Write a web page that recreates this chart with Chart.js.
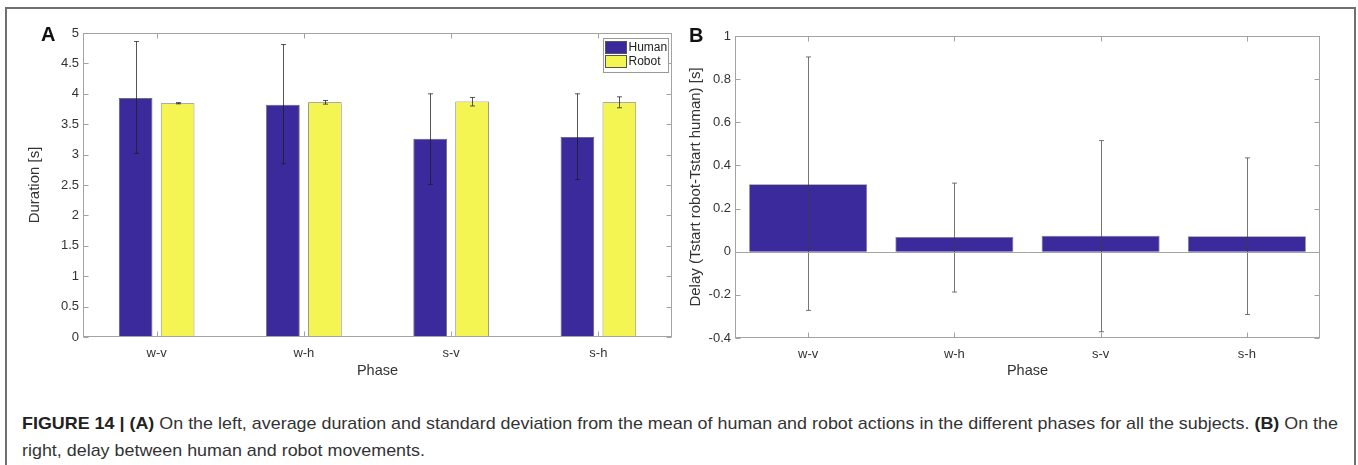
<!DOCTYPE html>
<html>
<head>
<meta charset="utf-8">
<script src="https://cdn.jsdelivr.net/npm/chart.js@4.4.1/dist/chart.umd.min.js"></script>
<style>
  body { margin: 0; background: #fff; width: 1358px; height: 465px; overflow: hidden; position: relative;
         font-family: "Liberation Sans", Arial, sans-serif; }
  #frame { position: absolute; left: 5px; top: 7px; width: 1347px; height: 520px; border: 2px solid #707070; }
  canvas { position: absolute; top: 0; }
  #durChart { left: 0; }
  #delayChart { left: 680px; }
  .tag { position: absolute; font-weight: bold; font-size: 20px; line-height: 20px; color: #111; }
  #caption { position: absolute; left: 22px; top: 410px; font-size: 17px; line-height: 27px; color: #333;
             font-family: "Liberation Sans", Arial, sans-serif;
             white-space: nowrap; transform-origin: 0 0; }
  #caption b { color: #222; }
</style>
</head>
<body>
<div id="frame"></div>
<canvas id="durChart" width="680" height="390"></canvas>
<canvas id="delayChart" width="678" height="390"></canvas>
<div class="tag" style="left:41px;top:24px">A</div>
<div class="tag" style="left:689px;top:25px">B</div>
<div id="caption"><span id="line1"><b>FIGURE 14 | (A)</b> On the left, average duration and standard deviation from the mean of human and robot actions in the different phases for all the subjects. <b>(B)</b> On the</span><br>right, delay between human and robot movements.</div>

<script>
// phases on the x axis
var phases = ['w-v', 'w-h', 's-v', 's-h'];

// duration (mean and mean +/- sd), seconds
var humanDur  = [3.93, 3.82, 3.26, 3.29];
var humanLow  = [3.02, 2.85, 2.51, 2.59];
var humanHigh = [4.86, 4.81, 4.00, 4.00];
var robotDur  = [3.845, 3.86, 3.875, 3.86];
var robotLow  = [3.835, 3.83, 3.80, 3.77];
var robotHigh = [3.855, 3.89, 3.94, 3.95];

// delay Tstart robot - Tstart human, seconds
var delay     = [0.313, 0.068, 0.074, 0.072];
var delayLow  = [-0.272, -0.187, -0.371, -0.291];
var delayHigh = [0.903, 0.318, 0.515, 0.435];

// y axis ranges
var durAxis   = { min: 0, max: 5, step: 0.5 };
var delayAxis = { min: -0.4, max: 1, step: 0.2 };

var FONT = "'Liberation Sans', Arial, sans-serif";
var humanColor = '#3b2a9c';
var robotColor = '#f4f552';

// whiskers drawn from the errLow / errHigh arrays of each dataset
var errorBars = {
  id: 'errorBars',
  afterDatasetsDraw: function(chart) {
    var ctx = chart.ctx, ys = chart.scales.y;
    chart.data.datasets.forEach(function(ds, i) {
      if (!ds.errLow) return;
      var meta = chart.getDatasetMeta(i);
      ctx.save();
      ctx.strokeStyle = ds.errColor;
      ctx.lineWidth = 1;
      meta.data.forEach(function(bar, j) {
        var x = Math.round(bar.x) + 0.5;
        var y1 = ys.getPixelForValue(ds.errLow[j]);
        var y2 = ys.getPixelForValue(ds.errHigh[j]);
        ctx.beginPath();
        ctx.moveTo(x, y1); ctx.lineTo(x, y2);
        ctx.moveTo(x - 2.5, y1); ctx.lineTo(x + 2.5, y1);
        ctx.moveTo(x - 2.5, y2); ctx.lineTo(x + 2.5, y2);
        ctx.stroke();
      });
      ctx.restore();
    });
  }
};

// matlab style box with inward ticks, optional zero line and legend
var axesBox = {
  id: 'axesBox',
  afterDraw: function(chart, args, opts) {
    var ctx = chart.ctx, a = chart.chartArea;
    var xs = chart.scales.x, ys = chart.scales.y;
    var L = Math.round(a.left) + 0.5, R = Math.round(a.right) - 0.5;
    var T = Math.round(a.top) + 0.5, B = Math.round(a.bottom) - 0.5;
    ctx.save();
    ctx.strokeStyle = '#a3a3a3';
    ctx.lineWidth = 1;
    if (opts.zeroLine) {
      var z = Math.round(ys.getPixelForValue(0)) + 0.5;
      ctx.beginPath(); ctx.moveTo(L, z); ctx.lineTo(R, z); ctx.stroke();
    }
    ctx.strokeRect(L, T, R - L, B - T);
    ctx.beginPath();
    ys.ticks.forEach(function(t, i) {
      var y = Math.round(ys.getPixelForTick(i)) + 0.5;
      ctx.moveTo(L, y); ctx.lineTo(L + 5, y);
      ctx.moveTo(R, y); ctx.lineTo(R - 5, y);
    });
    xs.ticks.forEach(function(t, i) {
      var x = Math.round(xs.getPixelForTick(i)) + 0.5;
      ctx.moveTo(x, B); ctx.lineTo(x, B - 5);
      ctx.moveTo(x, T); ctx.lineTo(x, T + 5);
    });
    ctx.stroke();

    if (opts.legend) {
      var w = 65, rowH = 14, h = 2 * rowH + 6;
      var lx = Math.round(a.right) - 4 - w + 0.5, ly = T + 5;
      ctx.fillStyle = '#fff';
      ctx.fillRect(lx, ly, w, h);
      ctx.strokeStyle = '#9a9a9a';
      ctx.strokeRect(lx, ly, w, h);
      ctx.font = '12px ' + FONT;
      ctx.textBaseline = 'middle';
      chart.data.datasets.forEach(function(ds, i) {
        var sy = ly + 3 + i * rowH;
        ctx.fillStyle = ds.backgroundColor;
        ctx.fillRect(lx + 2, sy, 21, rowH - 2);
        ctx.strokeStyle = '#555';
        ctx.strokeRect(lx + 2, sy, 21, rowH - 2);
        ctx.fillStyle = '#222';
        ctx.fillText(ds.label, lx + 25, sy + (rowH - 2) / 2 + 0.5);
      });
    }
    ctx.restore();
  }
};

function trimNum(v) { return String(Math.round(v * 10) / 10); }

function makeOptions(box, pad, area, yTitle, yTitlePad) {
  return {
    responsive: false,
    animation: false,
    devicePixelRatio: 1,
    layout: { padding: pad },
    plugins: { legend: { display: false }, tooltip: { enabled: false }, axesBox: box },
    scales: {
      x: {
        grid: { display: false, drawTicks: false },
        border: { display: false },
        ticks: { color: '#333', font: { family: FONT, size: 13 }, padding: 9 },
        title: { display: true, text: 'Phase', color: '#333', font: { family: FONT, size: 14.5 },
                 padding: { top: 0, bottom: 10.5 } },
        afterFit: function(s) { s.height = area.xHeight; }
      },
      y: {
        min: area.min, max: area.max,
        grid: { display: false, drawTicks: false },
        border: { display: false },
        ticks: { stepSize: area.step, color: '#333', font: { family: FONT, size: 13 }, padding: 4,
                 callback: trimNum },
        title: { display: true, text: yTitle, color: '#333', font: { family: FONT, size: 15 },
                 padding: { top: yTitlePad, bottom: 0 } },
        afterFit: function(s) { s.width = area.yWidth; }
      }
    }
  };
}

new Chart(document.getElementById('durChart'), {
  type: 'bar',
  data: {
    labels: phases,
    datasets: [
      { label: 'Human', data: humanDur, backgroundColor: humanColor, borderColor: 'rgba(40,40,40,0.8)',
        borderWidth: 0.8, categoryPercentage: 0.57, barPercentage: 0.8,
        errLow: humanLow, errHigh: humanHigh, errColor: 'rgba(30,30,30,0.75)' },
      { label: 'Robot', data: robotDur, backgroundColor: robotColor, borderColor: 'rgba(70,70,70,0.8)',
        borderWidth: 0.8, categoryPercentage: 0.57, barPercentage: 0.8,
        errLow: robotLow, errHigh: robotHigh, errColor: 'rgba(30,30,30,0.75)' }
    ]
  },
  options: makeOptions({ legend: true }, { left: 0, top: 33, right: 8, bottom: 0 },
    { xHeight: 53, yWidth: 83, min: durAxis.min, max: durAxis.max, step: durAxis.step },
    'Duration [s]', 26),
  plugins: [errorBars, axesBox]
});

new Chart(document.getElementById('delayChart'), {
  type: 'bar',
  data: {
    labels: phases,
    datasets: [
      { label: 'Delay', data: delay, backgroundColor: humanColor, borderColor: 'rgba(40,40,40,0.6)',
        borderWidth: 0.8, categoryPercentage: 1, barPercentage: 0.807,
        errLow: delayLow, errHigh: delayHigh, errColor: 'rgba(60,60,60,0.7)' }
    ]
  },
  options: makeOptions({ zeroLine: true }, { left: 0, top: 36, right: 38, bottom: 0 },
    { xHeight: 52, yWidth: 55, min: delayAxis.min, max: delayAxis.max, step: delayAxis.step },
    'Delay (Tstart robot-Tstart human) [s]', 7),
  plugins: [errorBars, axesBox]
});

// squeeze the caption so its first line spans the figure width
var line1 = document.getElementById('line1');
var cap = document.getElementById('caption');
var w = line1.getBoundingClientRect().width;
cap.style.transform = 'scaleX(' + (1316 / w) + ')';
</script>
</body>
</html>
